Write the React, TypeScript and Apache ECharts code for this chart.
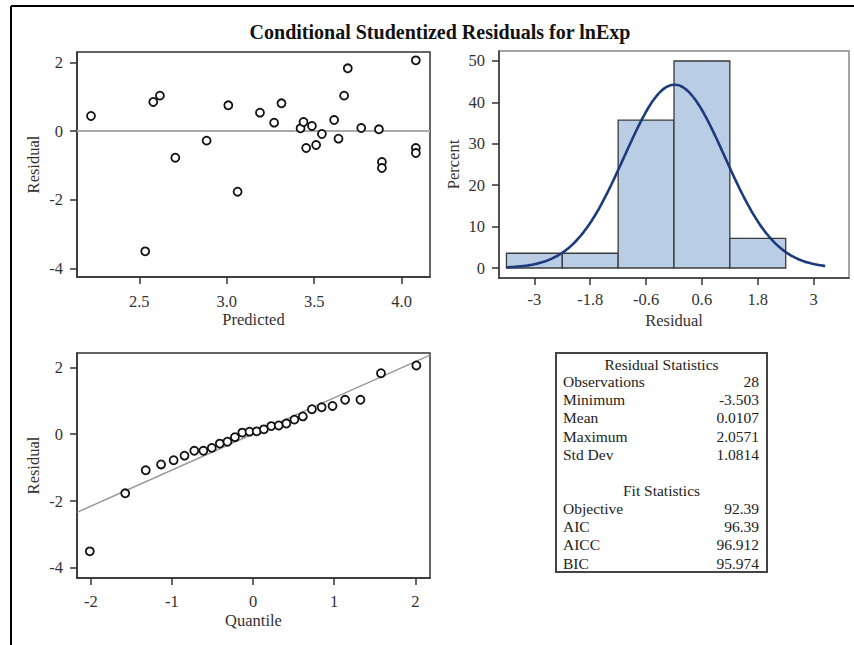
import React, { useEffect, useRef } from "react";
import * as echarts from "echarts";

// ---- data ----
const predicted = [2.224, 2.58, 2.618, 2.534, 2.706, 2.885, 3.009, 3.062, 3.19, 3.271, 3.313, 3.422, 3.439, 3.454, 3.487, 3.511, 3.544, 3.614, 3.639, 3.671, 3.692, 3.769, 3.87, 3.887, 3.887, 4.081, 4.081, 4.081];
const residuals = [0.437, 0.845, 1.03, -3.503, -0.777, -0.28, 0.748, -1.767, 0.534, 0.243, 0.806, 0.078, 0.262, -0.495, 0.146, -0.408, -0.087, 0.32, -0.223, 1.03, 1.825, 0.087, 0.049, -0.903, -1.078, 2.057, -0.495, -0.641];
const normalQuantiles = [-2.012, -1.576, -1.323, -1.134, -0.979, -0.845, -0.725, -0.613, -0.509, -0.41, -0.316, -0.224, -0.133, -0.044, 0.044, 0.133, 0.224, 0.316, 0.41, 0.509, 0.613, 0.725, 0.845, 0.979, 1.134, 1.323, 1.576, 2.012];

const binStarts = [-3.6, -2.4, -1.2, 0, 1.2];
const binEnds = [-2.4, -1.2, 0, 1.2, 2.4];
const binPercents = [3.57, 3.57, 35.71, 50, 7.14];

const scatterXTicks = [2.5, 3.0, 3.5, 4.0];
const residualTicks = [-4, -2, 0, 2];
const histXTicks = [-3, -1.8, -0.6, 0.6, 1.8, 3];
const histYTicks = [0, 10, 20, 30, 40, 50];
const qqXTicks = [-2, -1, 0, 1, 2];

const residualStatLabels = ["Observations", "Minimum", "Mean", "Maximum", "Std Dev"];
const residualStatValues = ["28", "-3.503", "0.0107", "2.0571", "1.0814"];
const fitStatLabels = ["Objective", "AIC", "AICC", "BIC"];
const fitStatValues = ["92.39", "96.39", "96.912", "95.974"];

const resMean = 0.0107;
const resStd = 1.0814;

const FONT = "'Liberation Serif', 'Times New Roman', serif";
const TXT = "#333";
const AX = "#333";

function axisCommon(ticks: number[], fmt: (v: number) => string, margin: number) {
  return {
    type: "value" as const,
    axisLine: { show: true, onZero: false, lineStyle: { color: AX, width: 1.5 } },
    axisTick: { show: true, length: 7, customValues: ticks, lineStyle: { color: AX, width: 1.5 } },
    axisLabel: {
      customValues: ticks,
      formatter: (v: number) => fmt(v),
      margin,
      fontSize: 16.5,
      fontFamily: FONT,
      color: TXT,
    },
    splitLine: { show: false },
    nameLocation: "middle" as const,
    nameTextStyle: { fontSize: 16.5, fontFamily: FONT, color: TXT },
  };
}

export default function App() {
  const ref = useRef<HTMLDivElement>(null);
  useEffect(() => {
    if (!ref.current) return;
    const chart = echarts.init(ref.current, null, { renderer: "svg" });

    const binWidth = binEnds[0] - binStarts[0];
    const curve: number[][] = [];
    for (let x = -3.6; x <= 3.27 + 1e-9; x += 0.05) {
      const z = (x - resMean) / resStd;
      const pdf = Math.exp(-0.5 * z * z) / (resStd * Math.sqrt(2 * Math.PI));
      curve.push([x, 100 * binWidth * pdf]);
    }

    const sortedRes = [...residuals].sort((a, b) => a - b);
    const qqX = [-2.17, 2.18];

    const scatterX = { ...axisCommon(scatterXTicks, (v) => v.toFixed(1), 16), gridIndex: 0, min: 2.144, max: 4.162, name: "Predicted", nameGap: 34 };
    const histX = { ...axisCommon(histXTicks, (v) => String(v), 13), gridIndex: 1, min: -3.76, max: 3.76, name: "Residual", nameGap: 34 };
    const qqXAxis = { ...axisCommon(qqXTicks, (v) => String(v), 15), gridIndex: 2, min: qqX[0], max: qqX[1], name: "Quantile", nameGap: 34 };

    const scatterY = { ...axisCommon(residualTicks, (v) => String(v), 14), gridIndex: 0, min: -4.25, max: 2.3, name: "Residual", nameGap: 35 };
    const histY = { ...axisCommon(histYTicks, (v) => String(v), 14), gridIndex: 1, min: -2.41, max: 52.41, name: "Percent", nameGap: 37 };
    const qqY = { ...axisCommon(residualTicks, (v) => String(v), 14), gridIndex: 2, min: -4.3, max: 2.43, name: "Residual", nameGap: 35 };

    const tableGraphics: any[] = [];
    const tx = 556, ty = 353, tw = 211, th = 219;
    tableGraphics.push({
      type: "rect",
      shape: { x: tx, y: ty, width: tw, height: th },
      style: { fill: "#fff", stroke: "#444", lineWidth: 2 },
      z: 10,
    });
    const tStyle = { fontSize: 15.5, fontFamily: FONT, fill: "#222" };
    tableGraphics.push({ type: "text", x: tx + tw / 2, y: 364, z: 11, style: { ...tStyle, text: "Residual Statistics", align: "center", verticalAlign: "middle" } });
    residualStatLabels.forEach((l, i) => {
      const y = 381.5 + i * 18.2;
      tableGraphics.push({ type: "text", x: 563, y, z: 11, style: { ...tStyle, text: l, align: "left", verticalAlign: "middle" } });
      tableGraphics.push({ type: "text", x: 759, y, z: 11, style: { ...tStyle, text: residualStatValues[i], align: "right", verticalAlign: "middle" } });
    });
    tableGraphics.push({ type: "text", x: tx + tw / 2, y: 490.5, z: 11, style: { ...tStyle, text: "Fit Statistics", align: "center", verticalAlign: "middle" } });
    fitStatLabels.forEach((l, i) => {
      const y = 508.3 + i * 18.3;
      tableGraphics.push({ type: "text", x: 563, y, z: 11, style: { ...tStyle, text: l, align: "left", verticalAlign: "middle" } });
      tableGraphics.push({ type: "text", x: 759, y, z: 11, style: { ...tStyle, text: fitStatValues[i], align: "right", verticalAlign: "middle" } });
    });

    const option: any = {
      animation: false,
      backgroundColor: "#fff",
      textStyle: { fontFamily: FONT },
      grid: [
        { left: 77, top: 52, width: 353, height: 225, show: true, borderColor: AX, borderWidth: 1.5, backgroundColor: "transparent", containLabel: false, outerBoundsMode: "none" },
        { left: 499, top: 51, width: 350, height: 227, show: true, borderColor: "#888", borderWidth: 1.5, backgroundColor: "transparent", containLabel: false, outerBoundsMode: "none" },
        { left: 77, top: 353, width: 353, height: 225, show: true, borderColor: AX, borderWidth: 1.5, backgroundColor: "transparent", containLabel: false, outerBoundsMode: "none" },
      ],
      xAxis: [scatterX, histX, qqXAxis],
      yAxis: [scatterY, histY, qqY],
      graphic: [
        { type: "line", shape: { x1: 11, y1: 6, x2: 854, y2: 6 }, style: { stroke: "#000", lineWidth: 2 } },
        { type: "line", shape: { x1: 11, y1: 6, x2: 11, y2: 645 }, style: { stroke: "#000", lineWidth: 2 } },
        {
          type: "text",
          x: 440,
          y: 32,
          style: { text: "Conditional Studentized Residuals for lnExp", fontSize: 20, fontWeight: "bold", fontFamily: FONT, fill: "#111", align: "center", verticalAlign: "middle" },
        },
        ...tableGraphics,
      ],
      series: [
        {
          type: "line",
          xAxisIndex: 0,
          yAxisIndex: 0,
          data: [[2.144, 0], [4.162, 0]],
          showSymbol: false,
          symbol: "none",
          lineStyle: { color: "#aaa", width: 2 },
          silent: true,
          z: 1,
        },
        {
          type: "scatter",
          xAxisIndex: 0,
          yAxisIndex: 0,
          data: predicted.map((p, i) => [p, residuals[i]]),
          symbol: "circle",
          symbolSize: 8,
          itemStyle: { color: "#fff", borderColor: "#111", borderWidth: 1.8, opacity: 1 },
          z: 3,
        },
        {
          type: "custom",
          xAxisIndex: 1,
          yAxisIndex: 1,
          data: binStarts.map((s, i) => [s, binEnds[i], binPercents[i]]),
          encode: { x: [0, 1], y: 2 },
          renderItem: (params: any, api: any) => {
            const p0 = api.coord([api.value(0), 0]);
            const p1 = api.coord([api.value(1), api.value(2)]);
            return {
              type: "rect",
              shape: { x: p0[0], y: p1[1], width: p1[0] - p0[0], height: p0[1] - p1[1] },
              style: { fill: "#b9cde5", stroke: "#3a3a3a", lineWidth: 1.3 },
            };
          },
          z: 2,
        },
        {
          type: "line",
          xAxisIndex: 1,
          yAxisIndex: 1,
          data: curve,
          showSymbol: false,
          symbol: "none",
          smooth: true,
          lineStyle: { color: "#1c3a7c", width: 2.6 },
          z: 4,
        },
        {
          type: "line",
          xAxisIndex: 2,
          yAxisIndex: 2,
          data: qqX.map((x) => [x, resMean + resStd * x]),
          showSymbol: false,
          symbol: "none",
          lineStyle: { color: "#999", width: 1.5 },
          z: 1,
        },
        {
          type: "scatter",
          xAxisIndex: 2,
          yAxisIndex: 2,
          data: normalQuantiles.map((q, i) => [q, sortedRes[i]]),
          symbol: "circle",
          symbolSize: 8,
          itemStyle: { color: "#fff", borderColor: "#111", borderWidth: 1.8, opacity: 1 },
          z: 3,
        },
      ],
    };
    chart.setOption(option);
    return () => chart.dispose();
  }, []);

  return <div ref={ref} style={{ position: "fixed", left: 0, top: 0, width: 854, height: 645, background: "#fff" }} />;
}
